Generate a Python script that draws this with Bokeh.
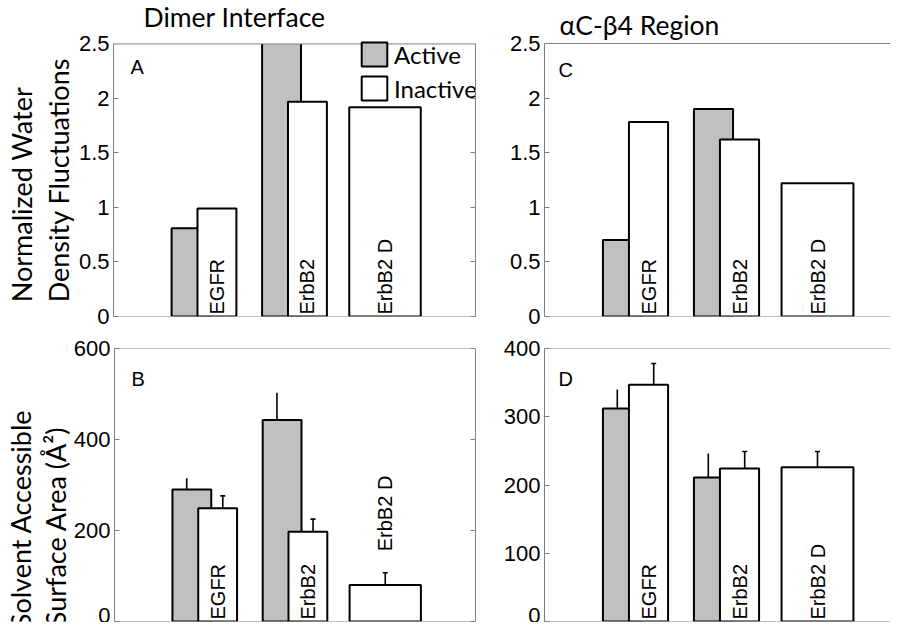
import math
from bokeh.plotting import figure
from bokeh.models import (ColumnDataSource, FixedTicker, NumeralTickFormatter, LinearAxis,
                          Legend, LegendItem, Label, Span, Range1d, BoxAnnotation)
from bokeh.layouts import row, column
from bokeh.embed import file_html
from bokeh.resources import INLINE
from bokeh.core.properties import value

# ---------------- data ----------------
groups = ["EGFR", "ErbB2", "ErbB2 D"]
group_pos = [1, 2, 3]

# Normalized water density fluctuations
water_dimer_active = [0.81, 2.75]          # ErbB2 active runs off the top (clipped at 2.5)
water_dimer_inactive = [0.99, 1.97, 1.92]
water_ac_active = [0.70, 1.90]
water_ac_inactive = [1.78, 1.62, 1.22]

# Solvent accessible surface area (A^2) with upper error
sasa_dimer_active = [290, 443]
sasa_dimer_active_err = [25, 60]
sasa_dimer_inactive = [249, 197, 80]
sasa_dimer_inactive_err = [27, 28, 27]
sasa_ac_active = [312, 211]
sasa_ac_active_err = [28, 35]
sasa_ac_inactive = [347, 224, 226]
sasa_ac_inactive_err = [31, 25, 23]

water_ticks = [0, 0.5, 1, 1.5, 2, 2.5]
sasa_dimer_ticks = [0, 200, 400, 600]
sasa_ac_ticks = [0, 100, 200, 300, 400]

label_y_water = [0, 0, 0]
label_y_sasa_dimer = [0, 0, 150]
label_y_sasa_ac = [0, 0, 0]

ylabel_water = ["Normalized Water", "Density Fluctuations"]
ylabel_sasa = ["Solvent Accessible", "Surface Area (\u00c5\u00b2)"]

# ---------------- style ----------------
GRAY_FILL = "#c0c0c0"
FRAME = "#808080"
SANS = "Liberation Sans"
HUMAN = "Lato"
PX_PER_UNIT = 91.0
BAR_W = 0.43
SINGLE_W = 0.79
OFF = 0.143
ERR_OFF = 0.2


def make_panel(width, height, borders, ymax, vis_h, ticks, active, inactive, act_err, inact_err,
               title, letter, letter_xy, label_y, right_frame, legend=False):
    bl, br, bt, bb = borders
    frame_w = width - bl - br
    frame_h = height - bt - bb
    x_end = frame_w / PX_PER_UNIT
    y_end = ymax * frame_h / vis_h
    extended = frame_h > vis_h
    p = figure(width=width, height=height, output_backend="svg", toolbar_location=None,
               x_range=Range1d(0, x_end), y_range=Range1d(0, y_end),
               x_axis_location=None, y_axis_location="left",
               min_border_left=bl, min_border_right=br, min_border_top=bt, min_border_bottom=bb,
               background_fill_color="white", border_fill_color="white")
    p.grid.visible = False
    p.outline_line_color = None

    n_act = len(active)
    act_x = [group_pos[i] - OFF for i in range(n_act)]
    inact_x = [group_pos[i] + OFF if i < n_act else group_pos[i] for i in range(len(inactive))]
    inact_w = [BAR_W if i < n_act else SINGLE_W for i in range(len(inactive))]

    r_act = p.vbar(x=act_x, top=active, width=BAR_W, bottom=0, fill_color=GRAY_FILL,
                   line_color="black", line_width=2)
    r_inact = p.vbar(x=inact_x, top=inactive, width=inact_w, bottom=0, fill_color="white",
                     line_color="black", line_width=2)

    if act_err is not None:
        ex = [group_pos[i] - ERR_OFF for i in range(n_act)]
        p.segment(x0=ex, y0=active, x1=ex, y1=[a + e for a, e in zip(active, act_err)],
                  line_color="black", line_width=1.6)
        ix = [group_pos[i] + ERR_OFF if i < n_act else group_pos[i] for i in range(len(inactive))]
        itop = [a + e for a, e in zip(inactive, inact_err)]
        p.segment(x0=ix, y0=inactive, x1=ix, y1=itop, line_color="black", line_width=1.6)
        p.scatter(x=ix, y=itop, marker="dash", size=5, line_color="black", line_width=1.6)

    # bar labels
    lab_x = [group_pos[i] + OFF if i < n_act else group_pos[i] for i in range(len(groups))]
    src = ColumnDataSource(dict(x=lab_x, y=label_y, t=groups))
    p.text(x="x", y="y", text="t", source=src, angle=math.pi / 2, text_align="left",
           text_baseline="middle", text_font=value(SANS), text_font_size="20px",
           text_color="black", y_offset=-2)

    # hide everything above the panel top (area used for the title)
    if extended:
        p.add_layout(BoxAnnotation(bottom=ymax, fill_color="white", fill_alpha=1.0,
                                   line_color=None))
    p.add_layout(Span(location=ymax, dimension="width", line_color=FRAME, line_width=1))
    p.add_layout(Span(location=0, dimension="width", line_color=FRAME, line_width=1))

    ax = p.yaxis[0]
    ax.ticker = FixedTicker(ticks=ticks)
    ax.formatter = NumeralTickFormatter(format="0.[0]")
    ax.bounds = (0, ymax)
    ax.major_tick_in = 5
    ax.major_tick_out = 0
    ax.minor_tick_line_color = None
    ax.axis_line_color = FRAME
    ax.major_tick_line_color = FRAME
    ax.major_label_text_font = SANS
    ax.major_label_text_font_size = "22px"
    ax.major_label_text_color = "black"
    ax.major_label_standoff = 4

    if right_frame:
        rax = LinearAxis(ticker=FixedTicker(ticks=ticks), major_tick_in=5, major_tick_out=0,
                         minor_tick_line_color=None, axis_line_color=FRAME, bounds=(0, ymax),
                         major_tick_line_color=FRAME, major_label_text_font_size="0px",
                         major_label_standoff=0)
        p.add_layout(rax, "right")

    if title:
        p.add_layout(Label(x=title[1], y=vis_h + title[2], x_units="screen",
                           y_units="screen", text=title[0], text_font=HUMAN,
                           text_font_size="26.5px", text_color="black",
                           text_baseline="alphabetic", text_align="left"))

    p.add_layout(Label(x=letter_xy[0], y=vis_h - letter_xy[1], x_units="screen",
                       y_units="screen", text=letter, text_font=SANS, text_font_size="20px",
                       text_color="black", text_baseline="alphabetic", text_align="left"))

    if legend:
        lg = Legend(items=[LegendItem(label="Active", renderers=[r_act]),
                           LegendItem(label="Inactive", renderers=[r_inact])],
                    location=(245, vis_h - 63), glyph_width=32, glyph_height=30, spacing=4,
                    padding=0, margin=0, label_standoff=4, border_line_color=None,
                    background_fill_alpha=0, label_text_font=HUMAN, label_text_font_size="24px",
                    label_text_color="black")
        p.add_layout(lg)
    return p


def label_strip(width, height, lines, xs, ys):
    """Narrow figure (1 unit = 1 pixel) that holds a two-line rotated y-axis title."""
    s = figure(width=width, height=height, output_backend="svg", toolbar_location=None,
               x_range=Range1d(0, width), y_range=Range1d(0, height), x_axis_location=None,
               y_axis_location=None, min_border=0, outline_line_color=None,
               background_fill_color="white", border_fill_color="white")
    s.grid.visible = False
    src = ColumnDataSource(dict(x=xs, y=ys, t=lines))
    s.text(x="x", y="y", text="t", source=src, angle=math.pi / 2, text_align="left",
           text_baseline="middle", text_font=value(HUMAN), text_font_size="27px",
           text_color="black")
    return s


pLt = label_strip(75, 334, ylabel_water, [21, 58], [15, 15])
pLb = label_strip(70, 288, ylabel_sasa, [20, 55], [-7, -5])

# top row: frames start at the page top so the titles can sit inside them
pA = make_panel(422, 334, (36, 22, 0, 14), 2.5, 276, water_ticks, water_dimer_active,
                water_dimer_inactive, None, None,
                ("Dimer Interface", 30, 24), "A", (17, 26), label_y_water, True, legend=True)
pC = make_panel(393, 334, (47, 0, 0, 18), 2.5, 273, water_ticks, water_ac_active,
                water_ac_inactive, None, None,
                ("\u03b1C-\u03b24 Region", 15, 19), "C", (14, 26), label_y_water, False)
pB = make_panel(427, 288, (41, 22, 14, 1), 600, 273, sasa_dimer_ticks, sasa_dimer_active,
                sasa_dimer_inactive, sasa_dimer_active_err, sasa_dimer_inactive_err,
                None, "B", (17, 30), label_y_sasa_dimer, True)
pD = make_panel(393, 288, (47, 0, 14, 1), 400, 273, sasa_ac_ticks, sasa_ac_active,
                sasa_ac_inactive, sasa_ac_active_err, sasa_ac_inactive_err, None, "D",
                (14, 30), label_y_sasa_ac, False)

layout = column(row(pLt, pA, pC), row(pLb, pB, pD))
open("out.html", "w").write(file_html(layout, INLINE))
